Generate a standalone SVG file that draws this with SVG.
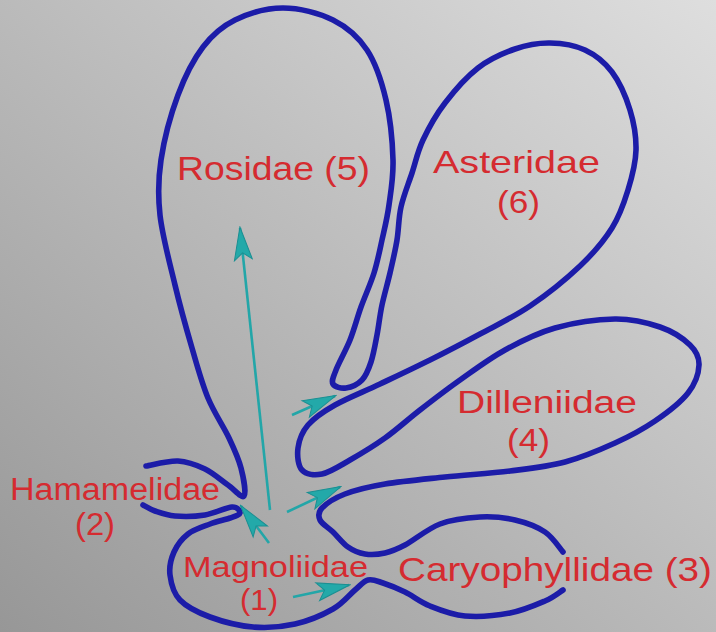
<svg xmlns="http://www.w3.org/2000/svg" width="716" height="632" viewBox="0 0 716 632">
<defs>
<linearGradient id="bg" x1="0" y1="1" x2="1" y2="0">
<stop offset="0" stop-color="#979797"/>
<stop offset="1" stop-color="#dedede"/>
</linearGradient>
<marker id="head" viewBox="-34 -10 36 20" refX="0" refY="0" markerWidth="36" markerHeight="20" markerUnits="userSpaceOnUse" orient="auto">
<path d="M1,0 L-32,-9 L-25,0 L-32,9 Z" fill="#23a9a9" stroke="#1a8f92" stroke-width="1"/>
</marker>
<style>
.outline{fill:none;stroke:#1c1ca8;stroke-width:5.6;stroke-linecap:round;stroke-linejoin:round}
.lbl{font-family:"Liberation Sans",Arial,sans-serif;fill:#d52b30}
.arr{stroke:#23a6a8;stroke-width:2.6;fill:none;marker-end:url(#head)}
</style>
</defs>
<rect width="716" height="632" fill="url(#bg)"/>
<g id="outline">
<path class="outline" d="M146,466 C151.3,465.2 168.2,460.5 178,461 S196.7,465 205,469 S221.5,480.5 228,485 S241.8,498.8 244,496 S243.5,477.7 241,468 S234.5,449.7 229,438 S214.2,413 208,398 S197.5,366.8 192,348 S180.3,307.2 175,285 S162.3,235.8 160,215 S158,180 161,160 S171,113.8 178,95 S193.5,59.5 203,47 S221.7,26.5 235,20 S266.7,8 283,8 S319,13 333,20 S358.2,36.7 367,50 S381.7,81.7 386,100 S392.5,142.5 393,160 S390.8,191.7 389,205 S384.5,228.7 382,240 S377.5,261.8 374,273 S365,295.8 361,307 S354.2,329.5 350,340 S338.8,362.7 336,370 S331.3,381 333,384 S341.2,388.7 346,388 S357.8,384.3 362,380 S368.5,369.5 371,362 S375.2,344.5 377,335 S379.8,315.3 382,305 S387.5,283.8 390,273 S395.2,251 397,240 S398.5,218.2 401,207 S408.3,184.2 412,173 S417.5,151.7 423,140 S435.8,115 445,103 S466.3,77 478,68 S503,53.2 515,49 S538.3,42.8 550,43 S574.7,45.2 585,50 S604.5,62 612,72 S626,97 630,110 S636.3,136.7 636,150 S632,177 628,190 S620,215.3 612,228 S593.7,253 580,266 S546.7,294.7 530,306 S496.7,325 480,334 S446.7,351.7 430,360 S395.8,376.5 380,384 S347,398.2 335,405 S314.2,417.8 308,425 S299,440.5 298,448 S298,465.7 302,470 S314,475.7 322,474 S339.5,466 350,460 S373.3,446.3 385,438 S407.5,419.7 420,410 S445.8,390 460,380 S489.2,358.7 505,350 S536.7,333.2 555,328 S597.5,319.2 615,319 S647.5,322.7 660,327 S683.5,338.7 690,345 S699.3,357 699,365 S695.3,383.7 688,393 S667.2,412.7 655,421 S630,436.2 615,443 S582.5,457.3 565,462 S530,468.5 510,471 S465.8,474.8 445,477 S401.7,481.2 385,484 S355.5,490 345,494 S326.2,503.7 322,508 S318.2,516 320,520 S328.3,527.5 333,532 S342.7,543.3 348,547 S358.8,553 365,554 S378.3,554.5 385,553 S395.8,549.8 405,545 S427.5,528.7 440,524 S467.5,517.7 480,517 S504.2,517.5 515,520 S537,526.7 545,532 S560,548.7 563,552"/>
<path class="outline" d="M563,590 C560,591.8 553.8,597.2 545,601 S523.3,610.5 510,613 S478.3,617.2 465,616 S440,610 430,606 S412.8,595.8 405,592 S389.2,585 383,583 S372.7,578.8 368,580 S360.8,585.2 355,590 S343,603.3 333,609 S308.3,621 295,624 S267.2,628.2 253,627 S222.2,621.5 210,617 S186.7,607 180,600 S171,583 170,575 S171,558.8 174,552 S182,538.7 188,534 S203,526.7 210,524 S225,519.8 230,518 S239.7,514.8 240,513 S237.8,506.7 232,507 S214.5,513.5 205,515 S183.3,516.7 175,516 S160.3,512.8 155,511 S145,506 143,505"/>
</g>
<g id="connectors">
<line class="arr" x1="270" y1="510" x2="240" y2="228"/>
<line class="arr" x1="269" y1="543" x2="241" y2="506"/>
<line class="arr" x1="287" y1="512" x2="340" y2="487"/>
<line class="arr" x1="292" y1="415" x2="335" y2="396"/>
<line class="arr" x1="293" y1="597" x2="349" y2="585"/>
</g>
<g id="magnoliidae">
<text class="lbl" x="183" y="577" font-size="29" textLength="185" lengthAdjust="spacingAndGlyphs">Magnoliidae</text>
<text class="lbl" x="240" y="610" font-size="29" textLength="38" lengthAdjust="spacingAndGlyphs">(1)</text>
</g>
<g id="hamamelidae">
<text class="lbl" x="10" y="500" font-size="31" textLength="210" lengthAdjust="spacingAndGlyphs">Hamamelidae</text>
<text class="lbl" x="75" y="535" font-size="31" textLength="40" lengthAdjust="spacingAndGlyphs">(2)</text>
</g>
<g id="caryophyllidae">
<text class="lbl" x="398" y="581" font-size="33" textLength="314" lengthAdjust="spacingAndGlyphs">Caryophyllidae (3)</text>
</g>
<g id="dilleniidae">
<text class="lbl" x="457" y="413" font-size="31" textLength="180" lengthAdjust="spacingAndGlyphs">Dilleniidae</text>
<text class="lbl" x="507" y="451" font-size="31" textLength="43" lengthAdjust="spacingAndGlyphs">(4)</text>
</g>
<g id="rosidae">
<text class="lbl" x="177" y="180" font-size="34" textLength="193" lengthAdjust="spacingAndGlyphs">Rosidae (5)</text>
</g>
<g id="asteridae">
<text class="lbl" x="433" y="173" font-size="32" textLength="167" lengthAdjust="spacingAndGlyphs">Asteridae</text>
<text class="lbl" x="497" y="213" font-size="32" textLength="43" lengthAdjust="spacingAndGlyphs">(6)</text>
</g>
</svg>
